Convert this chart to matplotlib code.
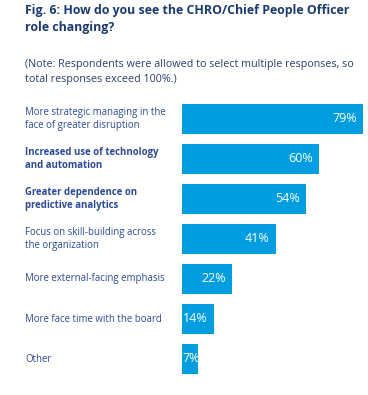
import matplotlib
matplotlib.use("Agg")
import matplotlib.pyplot as plt
import matplotlib.transforms as mtransforms

plt.rcParams['font.family'] = ['Open Sans', 'DejaVu Sans']

# Survey data
categories = [
    "More strategic managing in the\nface of greater disruption",
    "Increased use of technology\nand automation",
    "Greater dependence on\npredictive analytics",
    "Focus on skill-building across\nthe organization",
    "More external-facing emphasis",
    "More face time with the board",
    "Other",
]
values = [79, 60, 54, 41, 22, 14, 7]
bold_labels = [False, True, True, False, False, False, False]

bar_color = '#009ee0'
title_color = '#1b3a72'
note_color = '#2c3e6e'
label_color = '#2d4a9a'

W, H = 368, 395
fig = plt.figure(figsize=(W / 100, H / 100), dpi=100)
ax = fig.add_axes([182 / W, 21 / H, 181 / W, 270 / H])

ypos = list(range(len(values)))
ax.barh(ypos, values, height=0.75, color=bar_color)
ax.set_xlim(0, 79)
ax.set_ylim(len(values) - 0.625, -0.375)
ax.axis('off')

# category labels on the left
trans = mtransforms.blended_transform_factory(fig.transFigure, ax.transData)
for y, lab, b in zip(ypos, categories, bold_labels):
    ax.text(25 / W, y, lab, transform=trans, ha='left', va='center',
            fontsize=6.9, color=label_color, fontweight='bold' if b else 'normal',
            linespacing=1.3)

# value labels inside bars
for y, v in zip(ypos, values):
    if v < 10:
        ax.annotate(f"{v}%", (0, y), ha='left', va='center', color='white',
                    fontsize=9)
    else:
        ax.annotate(f"{v}%", (v, y), xytext=(-4.5, 0), textcoords='offset points',
                    ha='right', va='center', color='white', fontsize=9)

fig.text(25 / W, 1 - 4 / H, "Fig. 6: How do you see the CHRO/Chief People Officer\nrole changing?",
         ha='left', va='top', fontsize=8.95, fontweight='bold', color=title_color,
         linespacing=1.35)
fig.text(25 / W, 1 - 59 / H, "(Note: Respondents were allowed to select multiple responses, so\ntotal responses exceed 100%.)",
         ha='left', va='top', fontsize=7.75, color=note_color, linespacing=1.45)

fig.savefig('out.png', dpi=100)
